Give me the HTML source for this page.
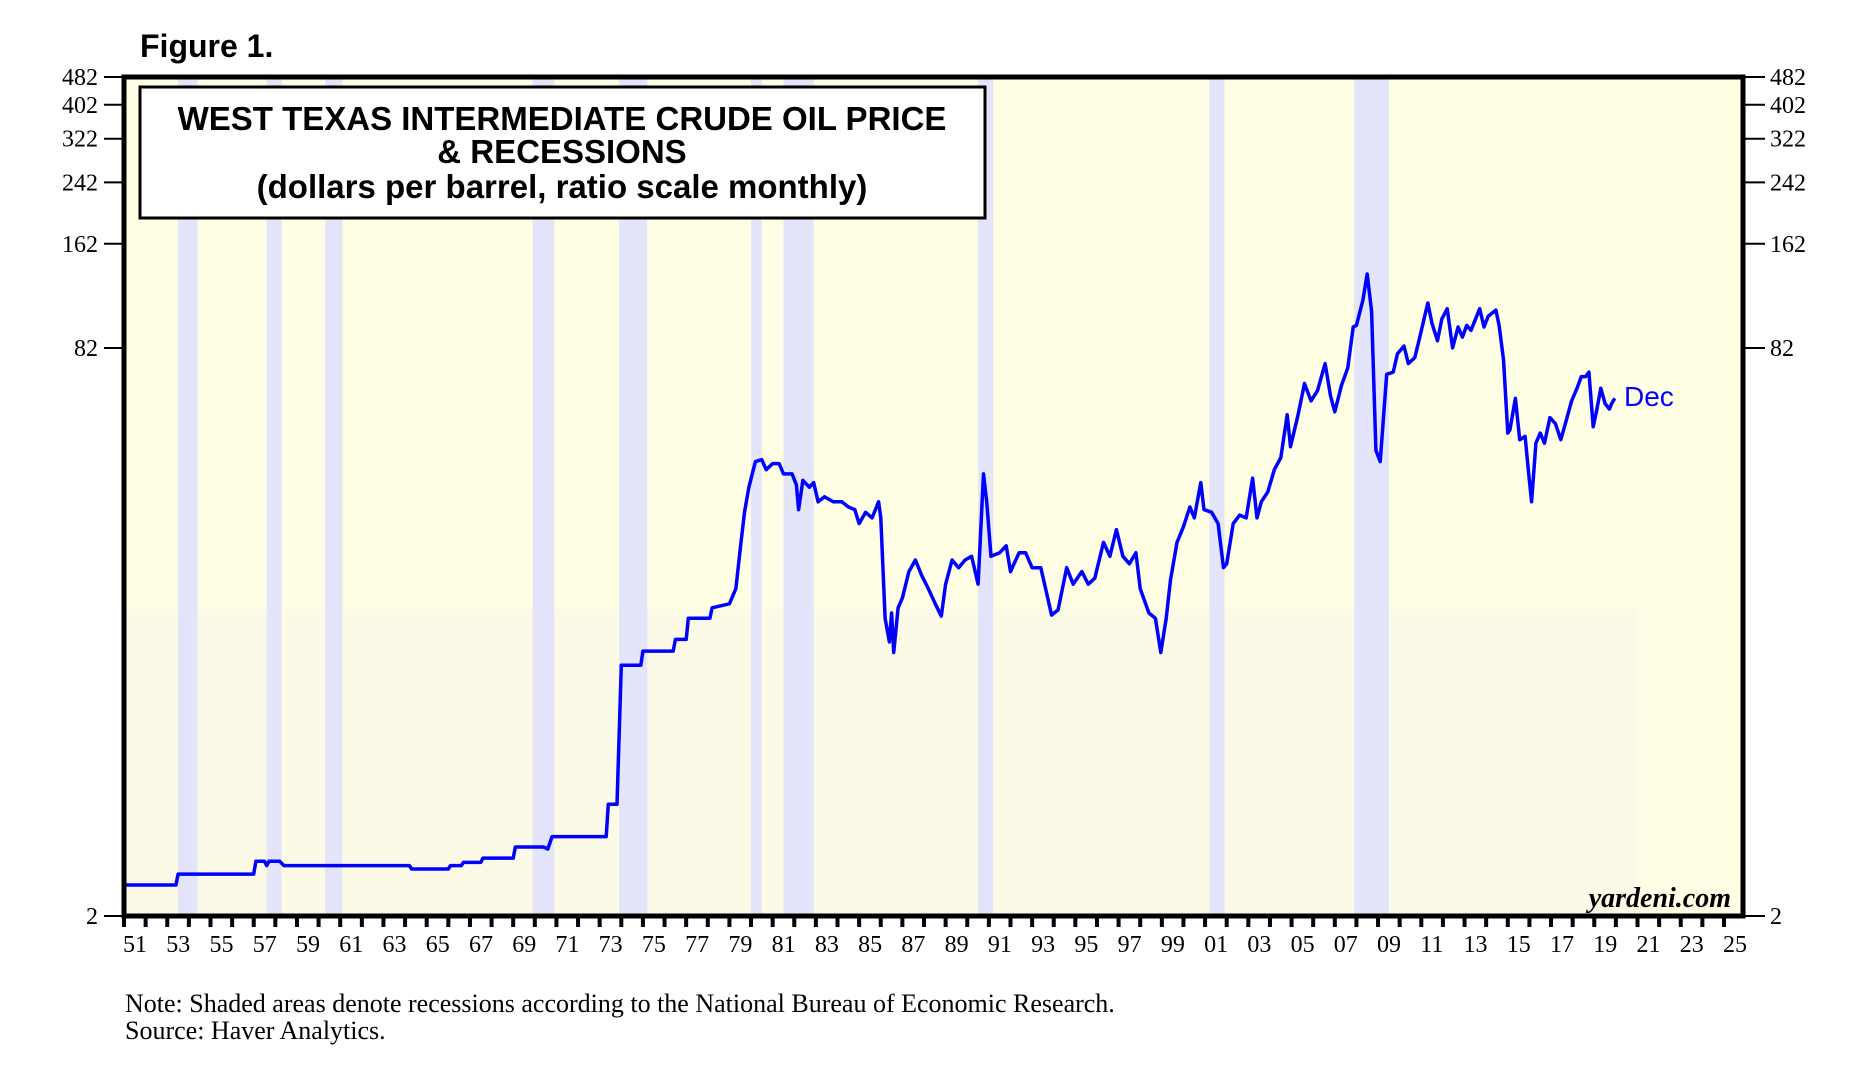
<!DOCTYPE html>
<html><head><meta charset="utf-8"><style>
html,body{margin:0;padding:0;background:#fff;}
svg{display:block;}
</style></head><body>
<svg id="chart" width="1864" height="1089" viewBox="0 0 1864 1089" xmlns="http://www.w3.org/2000/svg">
<text x="140" y="57" font-family="Liberation Sans, sans-serif" font-weight="bold" font-size="32">Figure 1.</text>
<g id="plot"></g>
<text x="125" y="1012" font-family="Liberation Serif, serif" font-size="26">Note: Shaded areas denote recessions according to the National Bureau of Economic Research.</text>
<text x="125" y="1039" font-family="Liberation Serif, serif" font-size="26">Source: Haver Analytics.</text>
</svg>
<script>
const yTicks=[2,82,162,242,322,402,482];
const recStart=[1953.5,1957.6,1960.3,1969.9,1973.9,1980.0,1981.5,1990.5,2001.2,2007.9];
const recEnd=[1954.4,1958.3,1961.1,1970.9,1975.2,1980.5,1982.9,1991.2,2001.9,2009.5];
const dates=[1951.0,1953.4,1953.5,1957.0,1957.1,1957.5,1957.6,1957.7,1958.2,1958.4,1964.2,1964.3,1966.0,1966.1,1966.6,1966.7,1967.5,1967.6,1969.0,1969.1,1970.4,1970.6,1970.8,1973.3,1973.4,1973.8,1974.0,1974.9,1975.0,1976.4,1976.5,1977.0,1977.1,1978.1,1978.2,1979.0,1979.3,1979.5,1979.7,1979.9,1980.2,1980.5,1980.7,1981.0,1981.3,1981.5,1981.9,1982.1,1982.2,1982.4,1982.7,1982.9,1983.1,1983.4,1983.8,1984.2,1984.5,1984.8,1985.0,1985.3,1985.6,1985.9,1986.0,1986.2,1986.4,1986.5,1986.6,1986.8,1987.0,1987.3,1987.6,1987.9,1988.2,1988.5,1988.8,1989.0,1989.3,1989.6,1989.9,1990.2,1990.5,1990.75,1990.9,1991.1,1991.5,1991.8,1992.0,1992.4,1992.7,1993.0,1993.4,1993.9,1994.2,1994.6,1994.9,1995.3,1995.6,1995.9,1996.3,1996.6,1996.9,1997.2,1997.5,1997.8,1998.0,1998.4,1998.7,1998.95,1999.2,1999.4,1999.7,2000.0,2000.3,2000.5,2000.8,2000.95,2001.3,2001.6,2001.85,2002.0,2002.3,2002.6,2002.9,2003.2,2003.4,2003.6,2003.9,2004.2,2004.5,2004.8,2004.95,2005.3,2005.6,2005.9,2006.2,2006.55,2006.8,2007.0,2007.3,2007.6,2007.85,2008.0,2008.3,2008.5,2008.7,2008.9,2009.1,2009.4,2009.7,2009.9,2010.2,2010.4,2010.7,2010.95,2011.3,2011.5,2011.75,2011.95,2012.2,2012.45,2012.7,2012.9,2013.1,2013.3,2013.7,2013.9,2014.1,2014.45,2014.6,2014.8,2015.0,2015.1,2015.35,2015.55,2015.8,2015.95,2016.1,2016.3,2016.5,2016.7,2016.95,2017.2,2017.45,2017.7,2017.95,2018.2,2018.4,2018.6,2018.75,2018.95,2019.1,2019.3,2019.5,2019.7,2019.8,2019.95];
const prices=[2.45,2.45,2.63,2.63,2.86,2.86,2.78,2.86,2.86,2.78,2.78,2.72,2.72,2.78,2.78,2.84,2.84,2.92,2.92,3.14,3.14,3.10,3.36,3.36,4.15,4.15,10.3,10.3,11.3,11.3,12.2,12.2,14.0,14.0,15.0,15.4,17,22,28,33,39,39.5,37,38.5,38.5,36,36,33.5,28.5,34.5,33,34,30,31,30,30,29,28.5,26,28,27,30,27,14,12,14.5,11.2,15,16,19,20.5,18.5,17,15.5,14.2,17.5,20.5,19.5,20.5,21,17.5,36,30,21,21.5,22.5,19,21.5,21.5,19.5,19.5,14.3,14.8,19.5,17.5,19,17.5,18.2,23,21,25,21,20,21.5,17,14.5,14,11.2,14,18,23,25.5,29,27,34,28.5,28,26,19.5,20,26,27.5,27,35,27,30,32,37,40,53,43,53,65,58,62,74,60,54,64,72,94,95,112,133,104,42,39,69,70,79,83,74,77,89,110,96,86,99,106,82,94,88,95,92,106,94,101,105,95,76,47,48,59,45,46,37,30,44,47,44,52,50,45,51,58,63,68,68,70,49,54,63,57,55,57,59];

const L=124,R=1743,T=77,B=916,Y0=1951,Y1=2025,XEND=1724;
function xs(t){return L+(t-Y0)*(XEND-L)/(Y1-Y0);}
function ys(v){return B-Math.log(v/2)*(B-T)/Math.log(482/2);}
const NS='http://www.w3.org/2000/svg';
const g=document.getElementById('plot');
function mk(tag,attrs,parent){const e=document.createElementNS(NS,tag);for(const k in attrs)e.setAttribute(k,attrs[k]);(parent||g).appendChild(e);return e;}

let e=mk('rect',{x:L,y:T,width:R-L,height:B-T,fill:'#fefee4'});


e=mk('rect',{x:L,y:609,width:1636-L,height:B-609,fill:'#fafae6'});



for(let i=0;i<recStart.length;i++){
  const r=mk('rect',{x:xs(recStart[i]),y:T,width:xs(recEnd[i])-xs(recStart[i]),height:B-T,fill:'#e4e4fa'});
  
  
}

let d='';
for(let i=0;i<dates.length;i++){d+=(i?'L':'M')+xs(dates[i]).toFixed(1)+' '+ys(prices[i]).toFixed(1);}
e=mk('path',{d:d,fill:'none',stroke:'#0000ff','stroke-width':3.5,'stroke-linejoin':'round'});



e=mk('text',{x:1624,y:406,fill:'#0000ff','font-family':'Liberation Sans, sans-serif','font-size':28});
e.textContent='Dec';



e=mk('text',{x:1731,y:907,'text-anchor':'end','font-family':'Liberation Serif, serif','font-size':28,'font-weight':'bold','font-style':'italic'});
e.textContent='yardeni.com';



e=mk('rect',{x:140,y:87,width:845,height:131,fill:'#fff',stroke:'#000','stroke-width':3});


const titles=['WEST TEXAS INTERMEDIATE CRUDE OIL PRICE','& RECESSIONS','(dollars per barrel, ratio scale monthly)'];
const tys=[130,163,198];
for(let i=0;i<3;i++){
  e=mk('text',{x:562,y:tys[i],'text-anchor':'middle','font-family':'Liberation Sans, sans-serif','font-weight':'bold','font-size':33});
  e.textContent=titles[i];
  
  
}

e=mk('rect',{x:L,y:T,width:R-L,height:B-T,fill:'none',stroke:'#000','stroke-width':5});



for(const v of yTicks){
  const y=ys(v);
  e=mk('line',{x1:104,x2:L,y1:y,y2:y,stroke:'#000','stroke-width':2});
  
  
  e=mk('line',{x1:R,x2:1765,y1:y,y2:y,stroke:'#000','stroke-width':2});
  
  
  e=mk('text',{x:98,y:y+8,'text-anchor':'end','font-family':'Liberation Serif, serif','font-size':24});
  e.textContent=v;
  
  
  e=mk('text',{x:1770,y:y+8,'font-family':'Liberation Serif, serif','font-size':24});
  e.textContent=v;
  
  
}
for(let yr=1951;yr<=2025;yr++){
  const x=xs(yr);
  e=mk('line',{x1:x,x2:x,y1:B,y2:927,stroke:'#000','stroke-width':4});
  
  
  if(yr%2===1){
    e=mk('text',{x:x-1,y:952,'font-family':'Liberation Serif, serif','font-size':24});
    e.textContent=String(yr%100).padStart(2,'0');
    
    
  }
}
</script>
</body></html>
